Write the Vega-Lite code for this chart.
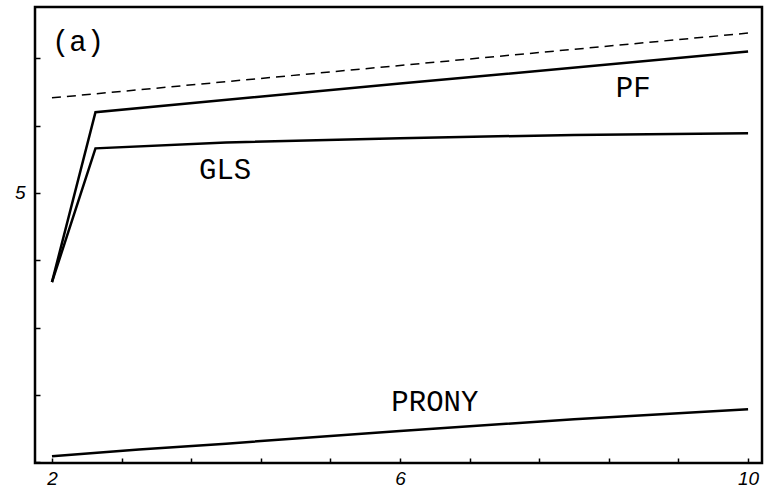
{
  "$schema": "https://vega.github.io/schema/vega-lite/v6.json",
  "width": 727,
  "height": 456,
  "autosize": "none",
  "padding": {"left": 35, "top": 7, "right": 10, "bottom": 32},
  "background": "white",
  "config": {"view": {"stroke": "black", "strokeWidth": 2.5}},
  "datasets": {
    "curves": [
      {"series": "PF", "x": 2, "y": 3.94},
      {"series": "PF", "x": 2.5, "y": 5.96},
      {"series": "PF", "x": 6, "y": 6.3},
      {"series": "PF", "x": 10, "y": 6.68},
      {"series": "GLS", "x": 2, "y": 3.94},
      {"series": "GLS", "x": 2.5, "y": 5.53},
      {"series": "GLS", "x": 4, "y": 5.6},
      {"series": "GLS", "x": 6, "y": 5.65},
      {"series": "GLS", "x": 8, "y": 5.69},
      {"series": "GLS", "x": 10, "y": 5.71},
      {"series": "PRONY", "x": 2, "y": 1.87},
      {"series": "PRONY", "x": 3, "y": 1.95},
      {"series": "PRONY", "x": 4, "y": 2.02},
      {"series": "PRONY", "x": 6, "y": 2.17},
      {"series": "PRONY", "x": 8, "y": 2.31},
      {"series": "PRONY", "x": 10, "y": 2.43}
    ],
    "bound": [
      {"x": 2, "y": 6.13},
      {"x": 10, "y": 6.9}
    ],
    "labels": [
      {"text": "(a)", "x": 2.3, "y": 6.79},
      {"text": "PF", "x": 8.68, "y": 6.25},
      {"text": "GLS", "x": 3.99, "y": 5.27},
      {"text": "PRONY", "x": 6.4, "y": 2.52}
    ]
  },
  "layer": [
    {
      "data": {"name": "curves"},
      "mark": {"type": "line", "color": "black", "strokeWidth": 2.5, "clip": true},
      "encoding": {
        "x": {
          "field": "x", "type": "quantitative",
          "scale": {"domain": [1.805, 10.16], "nice": false, "zero": false},
          "axis": {"orient": "bottom", "title": null, "domain": false, "grid": false, "labelOverlap": false,
                   "values": [2, 2.4, 2.8, 3.2, 3.6, 4, 4.4, 4.8, 5.2, 5.6, 6, 6.4, 6.8, 7.2, 7.6, 8, 8.4, 8.8, 9.2, 9.6, 10],
                   "labelExpr": "(round(datum.value) == datum.value && datum.value % 2 == 0) ? format(datum.value, 'd') : ''",
                   "offset": -5, "tickSize": 5, "tickColor": "black", "tickWidth": 1.5, "labelPadding": 6, "labelFlush": false,
                   "labelFont": "Liberation Sans", "labelFontSize": 19, "labelFontStyle": "italic", "labelColor": "black"}
        },
        "y": {
          "field": "y", "type": "quantitative",
          "scale": {"domain": [1.79, 7.21], "nice": false, "zero": false},
          "axis": {"orient": "left", "title": null, "domain": false, "grid": false, "labelOverlap": false,
                   "values": [1.8, 2, 2.2, 2.4, 2.6, 2.8, 3, 3.2, 3.4, 3.6, 3.8, 4, 4.2, 4.4, 4.6, 4.8, 5, 5.2, 5.4, 5.6, 5.8, 6, 6.2, 6.4, 6.6, 6.8, 7, 7.2],
                   "labelExpr": "round(datum.value) == datum.value ? format(datum.value, 'd') : ''",
                   "offset": -5, "tickSize": 5, "tickColor": "black", "tickWidth": 1.5, "labelPadding": 10, "labelFlush": false,
                   "labelFont": "Liberation Sans", "labelFontSize": 19, "labelFontStyle": "italic", "labelColor": "black"}
        },
        "detail": {"field": "series"}
      }
    },
    {
      "data": {"name": "bound"},
      "mark": {"type": "line", "color": "black", "strokeWidth": 1.5, "strokeDash": [9, 6]},
      "encoding": {
        "x": {"field": "x", "type": "quantitative"},
        "y": {"field": "y", "type": "quantitative"}
      }
    },
    {
      "data": {"name": "labels"},
      "mark": {"type": "text", "font": "Liberation Mono", "fontSize": 29, "color": "black", "baseline": "middle", "align": "center"},
      "encoding": {
        "x": {"field": "x", "type": "quantitative"},
        "y": {"field": "y", "type": "quantitative"},
        "text": {"field": "text"}
      }
    }
  ]
}
